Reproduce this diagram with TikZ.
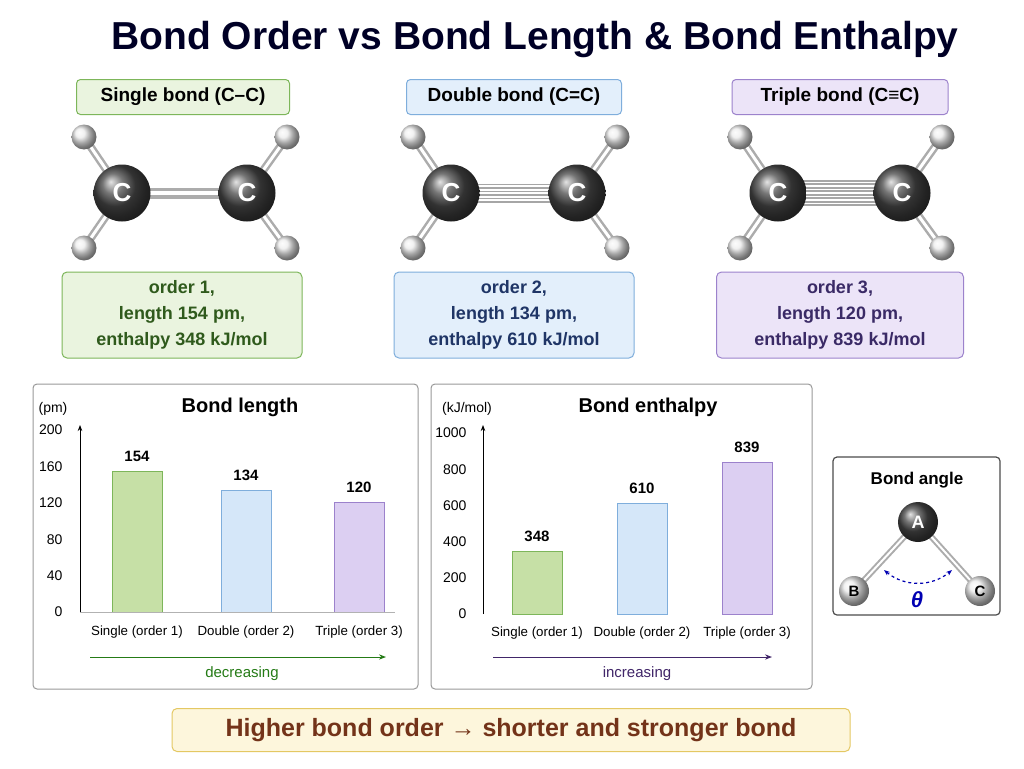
\documentclass[tikz,border=0pt]{standalone}
\usepackage{fontspec}
\setmainfont{Liberation Sans}
\usetikzlibrary{arrows.meta}
\definecolor{gF}{HTML}{EAF4DF}\definecolor{gD}{HTML}{7DB65A}\definecolor{gT}{HTML}{2F5A1C}
\definecolor{bF}{HTML}{E3EFFB}\definecolor{bD}{HTML}{7FAEDC}\definecolor{bT}{HTML}{1F3566}
\definecolor{pF}{HTML}{ECE4F8}\definecolor{pD}{HTML}{9C82CC}\definecolor{pT}{HTML}{3A2A66}
\definecolor{gBar}{HTML}{C6E0A6}\definecolor{bBar}{HTML}{D5E7F9}\definecolor{pBar}{HTML}{DCCFF2}
\definecolor{yF}{HTML}{FDF6DC}\definecolor{yD}{HTML}{E4C863}
\begin{document}
\begin{tikzpicture}[x=1pt,y=-1pt,
 lab/.style={draw=#1D,fill=#1F,rounded corners=4pt,line width=1pt,font=\fontsize{19}{22}\selectfont\bfseries},
 info/.style={draw=#1D,fill=#1F,rounded corners=5pt,line width=1pt,text=#1T,align=center,font=\fontsize{18}{26}\selectfont\bfseries},
 Catom/.style={circle,minimum size=57pt,inner sep=0pt,shading=ball,ball color=black!72,text=white,font=\fontsize{26}{26}\selectfont\bfseries},
 Hatom/.style={circle,minimum size=25pt,inner sep=0pt,shading=ball,ball color=white!85!gray},
 rod/.style={line width=8pt,draw=gray!65,line cap=round},
 rodh/.style={line width=3pt,draw=white},
 panel/.style={draw=gray!80,line width=1pt,rounded corners=4pt,fill=white},
 tick/.style={font=\fontsize{14}{15}\selectfont},
 cat/.style={font=\fontsize{13.3}{15}\selectfont},
 val/.style={font=\fontsize{15}{17}\selectfont\bfseries},
 ptitle/.style={font=\fontsize{20}{22}\selectfont\bfseries},
 bar/.style={draw=#1D,fill=#1Bar,line width=1pt}]
\useasboundingbox (0,0) rectangle (1024,768);
\fill[white] (0,0) rectangle (1024,768);
\node[font=\fontsize{39}{44}\selectfont\bfseries,text=black!85!blue] (title) at (535,40) {Bond Order vs Bond Length \& Bond Enthalpy};
% labels
\node[lab=g,minimum width=213pt,minimum height=35pt] (l1) at (183,97) {Single bond (C–C)};
\node[lab=b,minimum width=215pt,minimum height=35pt] (l2) at (514,97) {Double bond (C=C)};
\node[lab=p,minimum width=216pt,minimum height=35pt] (l3) at (840,97) {Triple bond (C≡C)};
% molecules
\foreach \n/\xa/\xb in {s/122/247,d/451/577,t/778/902}{
 \coordinate (\n a) at (\xa,193); \coordinate (\n b) at (\xb,193);
 \coordinate (\n h1) at (\xa-38,137); \coordinate (\n h2) at (\xb+40,137);
 \coordinate (\n h3) at (\xa-38,248); \coordinate (\n h4) at (\xb+40,248);
 \foreach \a/\h in {a/h1,b/h2,a/h3,b/h4}{\draw[rod] (\n\a) -- (\n\h); \draw[rodh] (\n\a) -- (\n\h);}
}
\draw[rod,line width=11pt] (sa) -- (sb); \draw[line width=3.5pt,white] (sa)--(sb);
\foreach \o in {-7,0,7}{\draw[gray!70,line width=5pt] ([yshift=\o]da) -- ([yshift=\o]db);\draw[white,line width=1.5pt] ([yshift=\o]da) -- ([yshift=\o]db);}
\foreach \o in {-10.5,-3.5,3.5,10.5}{\draw[gray!70,line width=5pt] ([yshift=\o]ta) -- ([yshift=\o]tb);\draw[white,line width=1.5pt] ([yshift=\o]ta) -- ([yshift=\o]tb);}
\foreach \n in {s,d,t}{
 \node[Catom] (\n A) at (\n a) {C}; \node[Catom] (\n B) at (\n b) {C};
 \foreach \h in {h1,h2,h3,h4}{\node[Hatom] (\n\h H) at (\n\h) {};}
}
% info boxes
\node[info=g,minimum width=240pt,minimum height=86pt] (i1) at (182,315) {order 1,\\length 154 pm,\\enthalpy 348 kJ/mol};
\node[info=b,minimum width=240pt,minimum height=86pt] (i2) at (514,315) {order 2,\\length 134 pm,\\enthalpy 610 kJ/mol};
\node[info=p,minimum width=247pt,minimum height=86pt] (i3) at (840,315) {order 3,\\length 120 pm,\\enthalpy 839 kJ/mol};
% panel 1
\draw[panel] (33,384) rectangle (418,689);
\node[ptitle] (t1) at (240,407) {Bond length};
\node[tick] (u1) at (53,409) {(pm)};
\coordinate (o1) at (80,612); \coordinate (e1) at (80,425);
\draw[-{Stealth[length=6pt]},line width=0.8pt] (o1) -- (e1);
\foreach \v in {0,40,...,200}{\node[tick,anchor=east] (y1\v) at (66,612-0.91*\v) {\v};}
\foreach \x/\v/\c/\t in {137/154/g/Single (order 1),246/134/b/Double (order 2),359/120/p/Triple (order 3)}{
 \draw[bar=\c] (\x-25,612) rectangle (\x+25,612-0.91*\v);
 \node[val] (v1\v) at (\x,612-0.91*\v-15) {\v};
 \node[cat] (c1\v) at (\x,632) {\t};}
\draw[line width=0.5pt,gray!60] (80,612) -- (395,612);
\coordinate (a1s) at (90,657); \coordinate (a1e) at (386,657);
\draw[-{Stealth[length=7pt]},gT!80!green,line width=1pt] (a1s) -- (a1e);
\node[font=\fontsize{15}{17}\selectfont,text=gT!80!green] (d1) at (242,674) {decreasing};
% panel 2
\draw[panel] (431,384) rectangle (812,689);
\node[ptitle] (t2) at (648,407) {Bond enthalpy};
\node[tick] (u2) at (467,409) {(kJ/mol)};
\coordinate (o2) at (483,614); \coordinate (e2) at (483,425);
\draw[-{Stealth[length=6pt]},line width=0.8pt] (o2) -- (e2);
\foreach \v in {0,200,...,1000}{\node[tick,anchor=east] (y2\v) at (470,614-0.181*\v) {\v};}
\foreach \x/\v/\c/\t in {537/348/g/Single (order 1),642/610/b/Double (order 2),747/839/p/Triple (order 3)}{
 \draw[bar=\c] (\x-25,614) rectangle (\x+25,614-0.181*\v);
 \node[val] (v2\v) at (\x,614-0.181*\v-15) {\v};
 \node[cat] (c2\v) at (\x,633) {\t};}
\coordinate (a2s) at (493,657); \coordinate (a2e) at (772,657);
\draw[-{Stealth[length=7pt]},pT!90!violet,line width=1pt] (a2s) -- (a2e);
\node[font=\fontsize{15}{17}\selectfont,text=pT!90!violet] (d2) at (637,674) {increasing};
% bond angle
\draw[panel,line width=1.2pt,draw=black!70] (833,457) rectangle (1000,615);
\node[font=\fontsize{17}{20}\selectfont\bfseries] (bt) at (917,480) {Bond angle};
\coordinate (pA) at (918,522); \coordinate (pB) at (854,591); \coordinate (pC) at (980,591);
\draw[rod,line width=6pt] (pA) -- (pB); \draw[rod,line width=6pt] (pA) -- (pC);
\draw[white,line width=2pt] (pA) -- (pB); \draw[white,line width=2pt] (pA) -- (pC);
\node[Catom,minimum size=40pt,font=\fontsize{18}{18}\selectfont\bfseries] (nA) at (pA) {A};
\node[Hatom,minimum size=30pt,font=\fontsize{15}{15}\selectfont\bfseries] (nB) at (pB) {B};
\node[Hatom,minimum size=30pt,font=\fontsize{15}{15}\selectfont\bfseries] (nC) at (pC) {C};
\draw[{Stealth[length=6pt]}-{Stealth[length=6pt]},dashed,blue!70!black,line width=1.2pt] (884,570) to[bend right=40] (952,570);
\node[font=\fontsize{22}{22}\selectfont\bfseries\itshape,text=blue!70!black] (th) at (917,600) {θ};
% bottom
\node[draw=yD,fill=yF,rounded corners=5pt,line width=1pt,minimum width=678pt,minimum height=43pt,font=\fontsize{25}{28}\selectfont\bfseries,text=black!75!red!60!brown] (bot) at (511,730) {Higher bond order → shorter and stronger bond};
\end{tikzpicture}
\end{document}
